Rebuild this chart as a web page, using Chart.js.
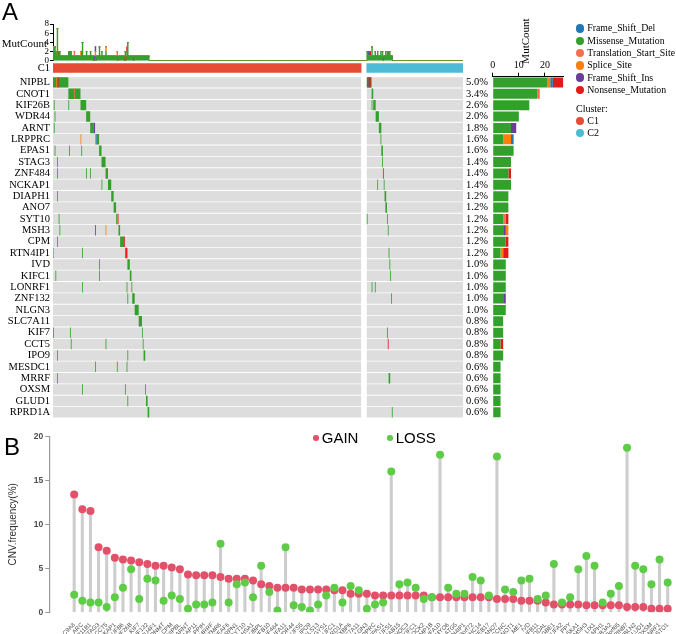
<!DOCTYPE html>
<html>
<head>
<meta charset="utf-8">
<title>Oncoprint and CNV frequency</title>
<script src="https://cdn.jsdelivr.net/npm/chart.js@4.4.1/dist/chart.umd.min.js"></script>
<style>
  html, body { margin: 0; padding: 0; background: #fff; }
  #fig { position: relative; width: 676px; height: 634px; overflow: hidden; }
  #fig canvas { position: absolute; }
  .lbl { position: absolute; white-space: nowrap; color: #000; }
  .serif { font-family: 'Liberation Serif', 'Times New Roman', serif; }
  .sans { font-family: 'Liberation Sans', Arial, sans-serif; }
  .dot { position: absolute; border-radius: 50%; }
</style>
</head>
<body>
<div id="fig">
  <canvas id="anno" width="470" height="70" style="left:0;top:0"></canvas>
  <canvas id="clus" width="470" height="36" style="left:0;top:50px"></canvas>
  <canvas id="grid" width="496" height="366" style="left:0;top:64px"></canvas>
  <canvas id="bars" width="90" height="376" style="left:484px;top:50px"></canvas>
  <canvas id="cnv" width="676" height="210" style="left:0;top:424px"></canvas>

  <div class="lbl sans" style="left:2px;top:0;font-size:24px;line-height:24px">A</div>
  <div class="lbl sans" style="left:4px;top:435px;font-size:24px;line-height:24px">B</div>
  <div class="lbl serif" style="left:0;width:47px;text-align:right;top:36px;font-size:11px;line-height:14px">MutCount</div>
  <div class="lbl serif" style="left:495px;top:35px;width:60px;text-align:center;font-size:11px;line-height:12px;transform:rotate(-90deg)">MutCount</div>
  <div id="legendA"></div>
  <div id="legendB"></div>
</div>
<script>
const SERIF = "'Liberation Serif', 'Times New Roman', serif";
const SANS = "'Liberation Sans', Arial, sans-serif";

// ---------- panel A ----------
const genes = ['NIPBL', 'CNOT1', 'KIF26B', 'WDR44', 'ARNT', 'LRPPRC', 'EPAS1', 'STAG3', 'ZNF484', 'NCKAP1',
  'DIAPH1', 'ANO7', 'SYT10', 'MSH3', 'CPM', 'RTN4IP1', 'IVD', 'KIFC1', 'LONRF1', 'ZNF132',
  'NLGN3', 'SLC7A11', 'KIF7', 'CCT5', 'IPO9', 'MESDC1', 'MRRF', 'OXSM', 'GLUD1', 'RPRD1A'];
const altFreq = ['5.0%', '3.4%', '2.6%', '2.0%', '1.8%', '1.6%', '1.6%', '1.4%', '1.4%', '1.4%',
  '1.2%', '1.2%', '1.2%', '1.2%', '1.2%', '1.2%', '1.0%', '1.0%', '1.0%', '1.0%',
  '1.0%', '0.8%', '0.8%', '0.8%', '0.8%', '0.6%', '0.6%', '0.6%', '0.6%', '0.6%'];

const mutTypes = ['Frame_Shift_Del', 'Missense_Mutation', 'Translation_Start_Site', 'Splice_Site', 'Frame_Shift_Ins', 'Nonsense_Mutation'];
const mutCodes = ['D', 'M', 'T', 'S', 'I', 'N'];
const mutColors = ['#1F78B4', '#33A02C', '#F4704F', '#FF7F0E', '#6A3D9A', '#E31A1C'];

const clusters = ['C1', 'C2'];
const clusterColors = ['#E64B35', '#4DBBD5'];
const clusterSizes = [381, 119];

// mutations per gene, right barplot
const cntMissense = [21, 17, 14, 10, 7, 4, 8, 7, 6, 7, 6, 6, 4, 4, 5, 3, 5, 5, 5, 4, 5, 4, 4, 3, 4, 3, 3, 3, 3, 3];
const cntTransStart = [0, 1, 0, 0, 0, 0, 0, 0, 0, 0, 0, 0, 1, 0, 0, 0, 0, 0, 0, 0, 0, 0, 0, 0, 0, 0, 0, 0, 0, 0];
const cntFrameIns = [0, 0, 0, 0, 2, 0, 0, 0, 0, 0, 0, 0, 0, 1, 0, 0, 0, 0, 0, 1, 0, 0, 0, 0, 0, 0, 0, 0, 0, 0];
const cntSplice = [1, 0, 0, 0, 0, 3, 0, 0, 0, 0, 0, 0, 0, 1, 0, 1, 0, 0, 0, 0, 0, 0, 0, 0, 0, 0, 0, 0, 0, 0];
const cntFrameDel = [1, 0, 0, 0, 0, 1, 0, 0, 0, 0, 0, 0, 0, 0, 0, 0, 0, 0, 0, 0, 0, 0, 0, 0, 0, 0, 0, 0, 0, 0];
const cntNonsense = [4, 0, 0, 0, 0, 0, 0, 0, 1, 0, 0, 0, 1, 0, 1, 2, 0, 0, 0, 0, 0, 0, 0, 1, 0, 0, 0, 0, 0, 0];

// oncoprint cells: [gene, first sample, last sample, type]
const c1Cells = [
  ['NIPBL', 0, 18, 'M'], ['NIPBL', 4, 4, 'S'], ['NIPBL', 6, 6, 'N'],
  ['CNOT1', 19, 33, 'M'], ['CNOT1', 26, 26, 'T'],
  ['KIF26B', 1, 1, 'M'], ['KIF26B', 19, 19, 'M'], ['KIF26B', 34, 40, 'M'],
  ['WDR44', 2, 2, 'M'], ['WDR44', 41, 45, 'M'],
  ['ARNT', 1, 1, 'M'], ['ARNT', 46, 49, 'M'], ['ARNT', 50, 51, 'I'],
  ['LRPPRC', 34, 34, 'S'], ['LRPPRC', 52, 52, 'S'], ['LRPPRC', 53, 53, 'D'], ['LRPPRC', 54, 56, 'M'],
  ['EPAS1', 2, 2, 'M'], ['EPAS1', 20, 20, 'M'], ['EPAS1', 35, 35, 'M'], ['EPAS1', 57, 59, 'M'],
  ['STAG3', 5, 5, 'M'], ['STAG3', 60, 64, 'M'],
  ['ZNF484', 5, 5, 'M'], ['ZNF484', 41, 41, 'M'], ['ZNF484', 46, 46, 'M'], ['ZNF484', 65, 67, 'M'],
  ['NCKAP1', 60, 60, 'M'], ['NCKAP1', 68, 71, 'M'],
  ['DIAPH1', 5, 5, 'M'], ['DIAPH1', 72, 74, 'M'],
  ['ANO7', 75, 77, 'M'],
  ['SYT10', 7, 7, 'M'], ['SYT10', 78, 78, 'M'], ['SYT10', 79, 79, 'T'], ['SYT10', 80, 80, 'N'],
  ['MSH3', 8, 8, 'M'], ['MSH3', 52, 52, 'I'], ['MSH3', 65, 65, 'S'], ['MSH3', 81, 82, 'M'],
  ['CPM', 5, 5, 'M'], ['CPM', 83, 87, 'M'], ['CPM', 88, 88, 'N'],
  ['RTN4IP1', 0, 0, 'S'], ['RTN4IP1', 36, 36, 'M'], ['RTN4IP1', 89, 89, 'M'], ['RTN4IP1', 90, 91, 'N'],
  ['IVD', 57, 57, 'M'], ['IVD', 92, 94, 'M'],
  ['KIFC1', 3, 3, 'M'], ['KIFC1', 57, 57, 'M'], ['KIFC1', 95, 96, 'M'],
  ['LONRF1', 36, 36, 'M'], ['LONRF1', 91, 91, 'M'], ['LONRF1', 97, 97, 'M'],
  ['ZNF132', 92, 92, 'M'], ['ZNF132', 98, 98, 'M'], ['ZNF132', 99, 99, 'I'], ['ZNF132', 100, 100, 'M'],
  ['NLGN3', 101, 105, 'M'],
  ['SLC7A11', 106, 109, 'M'],
  ['KIF7', 0, 0, 'M'], ['KIF7', 21, 21, 'M'], ['KIF7', 110, 110, 'M'],
  ['CCT5', 22, 22, 'M'], ['CCT5', 65, 65, 'M'], ['CCT5', 111, 111, 'M'],
  ['IPO9', 5, 5, 'M'], ['IPO9', 92, 92, 'M'], ['IPO9', 112, 113, 'M'],
  ['MESDC1', 52, 52, 'M'], ['MESDC1', 79, 79, 'M'], ['MESDC1', 91, 91, 'M'],
  ['MRRF', 5, 5, 'M'],
  ['OXSM', 36, 36, 'M'], ['OXSM', 89, 89, 'M'], ['OXSM', 114, 114, 'M'],
  ['GLUD1', 92, 92, 'M'], ['GLUD1', 115, 116, 'M'],
  ['RPRD1A', 117, 118, 'M']
];
const c2Cells = [
  ['NIPBL', 0, 5, 'M'], ['NIPBL', 1, 1, 'N'], ['NIPBL', 2, 2, 'D'], ['NIPBL', 3, 4, 'N'],
  ['CNOT1', 6, 7, 'M'],
  ['KIF26B', 6, 6, 'M'], ['KIF26B', 8, 10, 'M'],
  ['WDR44', 11, 14, 'M'],
  ['ARNT', 15, 17, 'M'],
  ['LRPPRC', 17, 17, 'M'],
  ['EPAS1', 18, 19, 'M'],
  ['STAG3', 19, 19, 'M'],
  ['ZNF484', 20, 20, 'N'],
  ['NCKAP1', 13, 13, 'M'], ['NCKAP1', 21, 21, 'M'],
  ['DIAPH1', 22, 23, 'M'],
  ['ANO7', 23, 24, 'M'],
  ['SYT10', 0, 0, 'M'], ['SYT10', 25, 25, 'M'],
  ['MSH3', 26, 26, 'M'],
  ['RTN4IP1', 27, 27, 'M'],
  ['IVD', 28, 28, 'M'],
  ['KIFC1', 29, 29, 'M'],
  ['LONRF1', 6, 6, 'M'], ['LONRF1', 10, 10, 'M'],
  ['ZNF132', 30, 30, 'M'],
  ['KIF7', 25, 25, 'M'],
  ['CCT5', 26, 26, 'N'],
  ['MRRF', 27, 28, 'M'],
  ['RPRD1A', 31, 31, 'M']
];

// ---------- panel B ----------
const cnvGenes = ['SLC9A8', 'ARC', 'CYP11B1', 'STAG3', 'CCT5', 'NCKAP1', 'NDUFB6', 'KIF26B', 'KIF7', 'ZNF132',
  'POU4F1', 'PNMT', 'CPM', 'NIPBL', 'ARNT', 'ARHGAP11', 'PPIH', 'MRRF', 'MTMR6', 'MEAF6',
  'RPN1', 'SYT10', 'AHSA1', 'NUBPL', 'NDUFB10', 'ZNF484', 'NDUFA11', 'WDR44', 'NDUFS5', 'IPO9',
  'LGALS13', 'GYS1', 'NDUFC1', 'RPRD1A', 'STXBP6', 'SLC7A11', 'NLGN3', 'LRPPRC', 'EPAS1', 'NDUFS1',
  'RAB15', 'THOC3', 'KIFC1', 'ROCK2', 'CHMP1B', 'NDUFA10', 'MYO6', 'ATG5', 'RTN4IP1', 'C9orf72',
  'ZCCHC14', 'MAGEB17', 'ANO7', 'CCNC', 'CNOT1', 'ME1', 'IVD', 'NDUFB11', 'NODAL', 'GBE1',
  'NDUFA2', 'PPY', 'SKA1', 'MSH3', 'LIX1', 'DIAPH1', 'SCGB3A2', 'C20orf85', 'SERPINB7', 'EBLN2',
  'GLUD1', 'OXSM', 'LONRF1', 'GSTO1'];
const gainFreq = [13.4, 11.7, 11.5, 7.4, 7.0, 6.2, 6.0, 5.9, 5.7, 5.5,
  5.3, 5.3, 5.1, 4.9, 4.3, 4.2, 4.2, 4.2, 4.0, 3.8,
  3.8, 3.8, 3.6, 3.2, 3.0, 2.8, 2.8, 2.8, 2.6, 2.6,
  2.6, 2.6, 2.5, 2.5, 2.1, 2.1, 2.1, 1.9, 1.9, 1.9,
  1.9, 1.9, 1.9, 1.9, 1.7, 1.7, 1.7, 1.7, 1.7, 1.7,
  1.7, 1.7, 1.5, 1.5, 1.5, 1.3, 1.3, 1.3, 1.1, 0.9,
  0.9, 0.9, 0.9, 0.8, 0.8, 0.8, 0.8, 0.8, 0.6, 0.6,
  0.6, 0.4, 0.4, 0.4];
const lossFreq = [2.0, 1.3, 1.1, 1.1, 0.6, 1.7, 2.8, 4.9, 1.5, 3.8,
  3.6, 1.3, 1.9, 1.5, 0.4, 0.9, 0.9, 1.1, 7.8, 1.1,
  3.2, 3.4, 1.7, 5.3, 2.3, 0.2, 7.4, 0.8, 0.6, 0.2,
  0.9, 1.9, 2.8, 1.1, 3.0, 2.5, 0.4, 0.9, 1.1, 16.0,
  3.2, 3.4, 2.8, 1.5, 1.7, 17.9, 2.8, 2.1, 2.1, 4.0,
  3.6, 1.9, 17.7, 2.6, 2.3, 3.6, 3.8, 1.5, 1.9, 5.5,
  1.1, 1.7, 4.9, 6.4, 5.3, 1.1, 2.1, 3.0, 18.7, 5.3,
  4.9, 3.2, 6.0, 3.4];
const gainColor = '#E3506A';
const lossColor = '#5FCC47';

// ---------- build ----------
const GAP = 7;
const c2Start = clusterSizes[0] + GAP;
const nSlots = c2Start + clusterSizes[1];
const cells = c1Cells.map(c => ({ g: c[0], a: c[1], b: c[2] + 1, t: c[3] }))
  .concat(c2Cells.map(c => ({ g: c[0], a: c[1] + c2Start, b: c[2] + 1 + c2Start, t: c[3] })));
const colorOf = code => mutColors[mutCodes.indexOf(code)];
const common = { responsive: false, animation: false, devicePixelRatio: 1,
  plugins: { legend: { display: false }, tooltip: { enabled: false } } };

// top annotation: mutations per sample
const perSample = mutCodes.map(() => new Array(nSlots).fill(0));
cells.forEach(c => { for (let s = c.a; s < c.b; s++) perSample[mutCodes.indexOf(c.t)][s] += 1; });
const slotLabels = Array.from({ length: nSlots }, (_, i) => i);

new Chart(document.getElementById('anno'), {
  type: 'bar',
  data: {
    labels: slotLabels,
    datasets: ['M', 'S', 'T', 'D', 'I', 'N'].map(code => ({
      data: perSample[mutCodes.indexOf(code)],
      backgroundColor: colorOf(code),
      barPercentage: 1, categoryPercentage: 1, borderWidth: 0
    }))
  },
  options: {
    ...common,
    layout: { padding: { top: 24, bottom: 9.3, left: 0, right: 7 } },
    scales: {
      x: { stacked: true, display: false },
      y: {
        stacked: true, min: 0, max: 8,
        ticks: { stepSize: 2, autoSkip: false, color: '#000', padding: 1, font: { family: SERIF, size: 9 } },
        grid: { drawOnChartArea: false, tickLength: 3, color: '#000' },
        border: { color: '#000' },
        afterFit: s => { s.width = 53; }
      }
    }
  }
});

new Chart(document.getElementById('clus'), {
  type: 'bar',
  data: {
    labels: [clusters[0]],
    datasets: [
      { data: [{ y: clusters[0], x: [0, clusterSizes[0]] }], backgroundColor: clusterColors[0] },
      { data: [{ y: clusters[0], x: [c2Start, nSlots] }], backgroundColor: clusterColors[1] }
    ].map(d => ({ ...d, grouped: false, barPercentage: 1, categoryPercentage: 1, borderWidth: 0 }))
  },
  options: {
    ...common, indexAxis: 'y',
    layout: { padding: { top: 13.3, bottom: 13.3, left: 0, right: 7 } },
    scales: {
      x: { type: 'linear', min: 0, max: nSlots, display: false },
      y: { grid: { display: false, drawTicks: false }, border: { display: false },
        ticks: { color: '#000', padding: 3, font: { family: SERIF, size: 10.5 } },
        afterFit: s => { s.width = 53; } }
    }
  }
});

const gridSets = ['N', 'I', 'S', 'T', 'D', 'M'].map(code => ({
  data: cells.filter(c => c.t === code).map(c => ({ y: c.g, x: [c.a, c.b] })),
  backgroundColor: colorOf(code)
}));
gridSets.push({
  data: genes.flatMap(g => [{ y: g, x: [0, clusterSizes[0]] }, { y: g, x: [c2Start, nSlots] }]),
  backgroundColor: '#DDDDDD'
});

new Chart(document.getElementById('grid'), {
  type: 'bar',
  data: {
    labels: genes,
    datasets: gridSets.map(d => ({ ...d, grouped: false, barPercentage: 0.92, categoryPercentage: 1, borderWidth: 0 }))
  },
  options: {
    ...common, indexAxis: 'y',
    layout: { padding: { top: 12.7, bottom: 12, left: 0, right: 0 } },
    scales: {
      x: { type: 'linear', min: 0, max: nSlots, display: false },
      y: { offset: true, grid: { display: false, drawTicks: false }, border: { display: false },
        ticks: { autoSkip: false, color: '#000', padding: 3, font: { family: SERIF, size: 10.5 } },
        afterFit: s => { s.width = 53; } },
      yPct: { type: 'category', position: 'right', labels: altFreq, offset: true, display: true,
        grid: { display: false, drawTicks: false }, border: { display: false },
        ticks: { autoSkip: false, color: '#000', padding: 3, font: { family: SERIF, size: 10.5 } },
        afterFit: s => { s.width = 33; } }
    }
  }
});

const barSeries = [
  ['Missense_Mutation', cntMissense], ['Translation_Start_Site', cntTransStart], ['Frame_Shift_Ins', cntFrameIns],
  ['Splice_Site', cntSplice], ['Frame_Shift_Del', cntFrameDel], ['Nonsense_Mutation', cntNonsense]
];
new Chart(document.getElementById('bars'), {
  type: 'bar',
  data: {
    labels: genes,
    datasets: barSeries.map(([name, vals]) => ({
      label: name, data: vals, backgroundColor: mutColors[mutTypes.indexOf(name)],
      barPercentage: 0.88, categoryPercentage: 1, borderWidth: 0
    }))
  },
  options: {
    ...common, indexAxis: 'y',
    layout: { padding: { top: 0, bottom: 8, left: 8.7, right: 10.7 } },
    scales: {
      x: { position: 'top', stacked: true, min: 0, max: 27,
        ticks: { stepSize: 10, includeBounds: false, maxRotation: 0, color: '#000', padding: 1, font: { family: SERIF, size: 10 } },
        grid: { drawOnChartArea: false, tickLength: 4, color: '#000' },
        border: { color: '#000' },
        afterFit: s => { s.height = 26.7; } },
      y: { stacked: true, display: false }
    }
  }
});

// legend A
const legA = document.getElementById('legendA');
const addItem = (host, x, y, d, color, text, cls, size) => {
  const dot = document.createElement('div');
  dot.className = 'dot';
  Object.assign(dot.style, { left: (x - d / 2) + 'px', top: (y - d / 2) + 'px', width: d + 'px', height: d + 'px', background: color });
  host.appendChild(dot);
  const t = document.createElement('div');
  t.className = 'lbl ' + cls;
  Object.assign(t.style, { left: (x + d / 2 + 3) + 'px', top: (y - size * 0.62) + 'px', fontSize: size + 'px', lineHeight: (size * 1.2) + 'px' });
  t.textContent = text;
  host.appendChild(t);
};
mutTypes.forEach((m, i) => addItem(legA, 580, 28.5 + i * 12.3, 8.5, mutColors[i], m, 'serif', 9.8));
const clTitle = document.createElement('div');
clTitle.className = 'lbl serif';
Object.assign(clTitle.style, { left: '576px', top: '103px', fontSize: '10px', lineHeight: '12px' });
clTitle.textContent = 'Cluster:';
legA.appendChild(clTitle);
clusters.forEach((c, i) => addItem(legA, 580, 121 + i * 12, 8.5, clusterColors[i], c, 'serif', 10));

// legend B
const legB = document.getElementById('legendB');
addItem(legB, 316, 438, 5.5, gainColor, 'GAIN', 'sans', 15);
addItem(legB, 390, 438, 5.5, lossColor, 'LOSS', 'sans', 15);

// panel B lollipops
new Chart(document.getElementById('cnv'), {
  type: 'bar',
  data: {
    datasets: [
      { type: 'scatter', label: 'LOSS', data: cnvGenes.map((g, i) => ({ x: i, y: lossFreq[i] })),
        backgroundColor: lossColor, pointRadius: 4, borderWidth: 0 },
      { type: 'scatter', label: 'GAIN', data: cnvGenes.map((g, i) => ({ x: i, y: gainFreq[i] })),
        backgroundColor: gainColor, pointRadius: 4, borderWidth: 0 },
      { type: 'bar', label: 'stem', data: cnvGenes.map((g, i) => ({ x: i, y: Math.max(gainFreq[i], lossFreq[i]) })),
        backgroundColor: '#CDCDCD', barThickness: 2.4, borderWidth: 0 }
    ]
  },
  options: {
    ...common,
    layout: { padding: { top: 12.3, bottom: 0, left: 0, right: 0 } },
    scales: {
      x: { type: 'linear', min: -3.06, max: 73.53, offset: false,
        grid: { display: false }, border: { display: false },
        afterBuildTicks: s => { s.ticks = cnvGenes.map((g, i) => ({ value: i })); },
        ticks: { autoSkip: false, minRotation: 45, maxRotation: 45, padding: 1, color: '#4D4D4D',
          font: { family: SANS, size: 6 }, callback: v => cnvGenes[v] },
        afterFit: s => { s.height = 21.7; } },
      y: { min: 0, max: 20,
        ticks: { stepSize: 5, color: '#4D4D4D', padding: 2, font: { family: SANS, size: 8.5, weight: 'bold' } },
        grid: { drawOnChartArea: false, tickLength: 4, color: '#999' },
        border: { color: '#999', width: 1.2 },
        title: { display: true, text: 'CNV.frequency(%)', color: '#333', padding: { top: 7, bottom: 0 },
          font: { family: SANS, size: 10 } },
        afterFit: s => { s.width = 49.3; } }
    }
  }
});
</script>
</body>
</html>
